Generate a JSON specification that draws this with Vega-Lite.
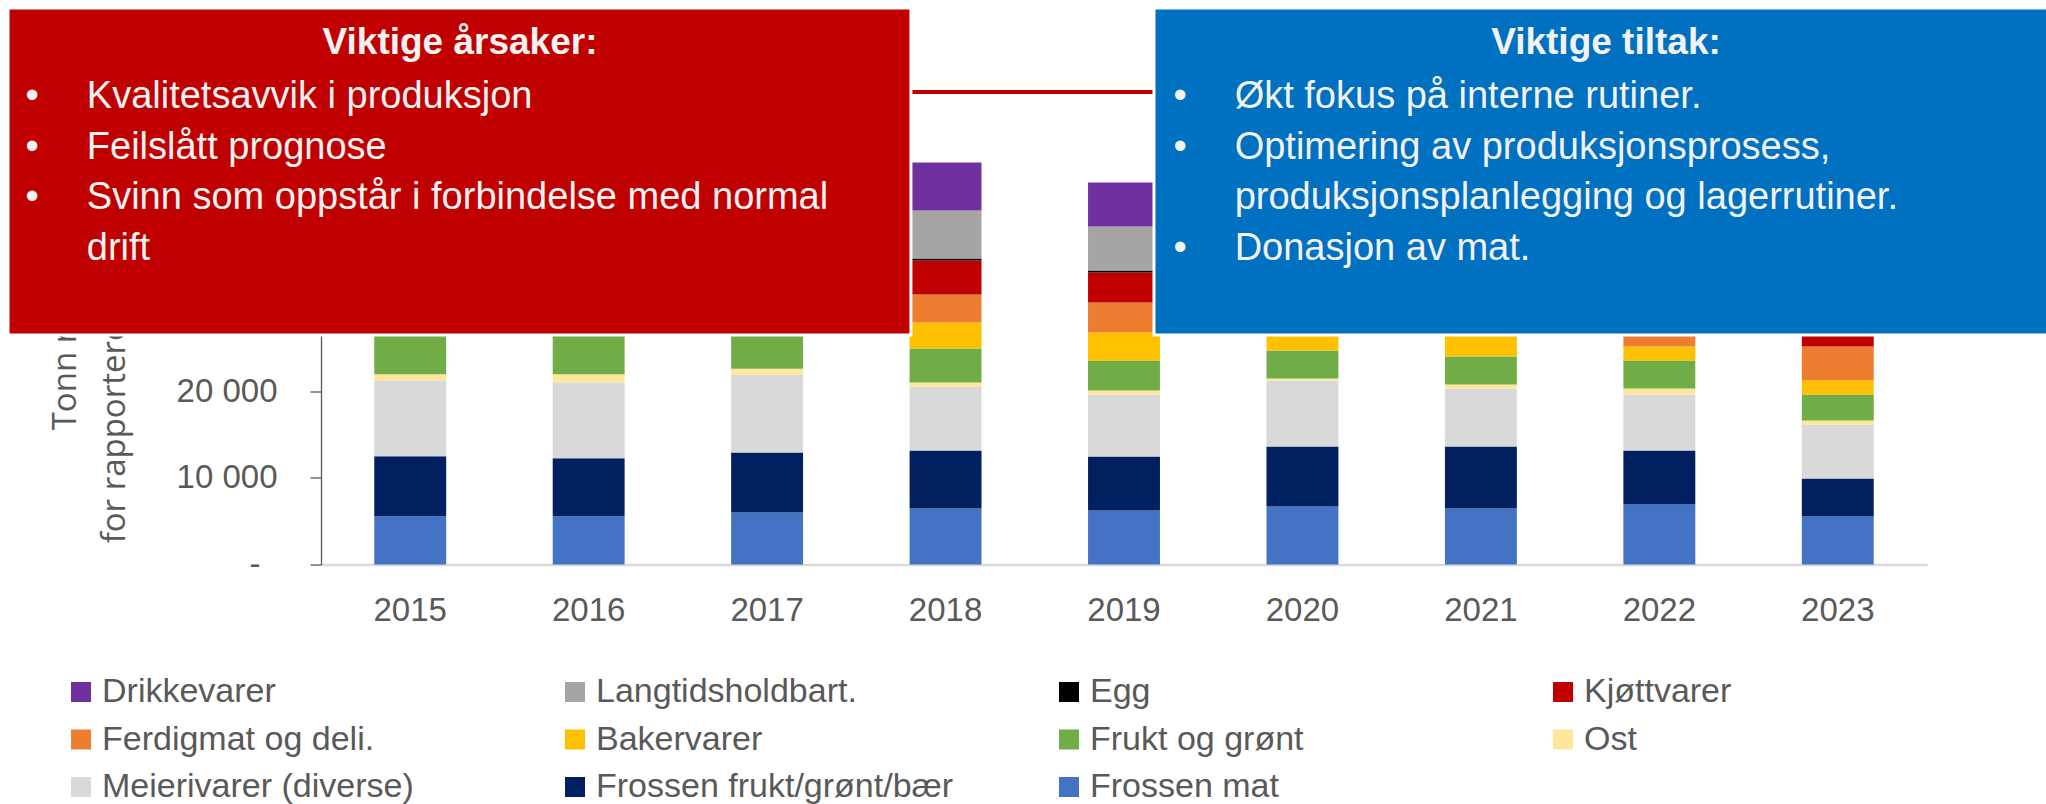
{
  "$schema": "https://vega.github.io/schema/vega-lite/v6.json",
  "width": 1606,
  "height": 477,
  "autosize": {"type": "none"},
  "padding": {"left": 321, "top": 87.5, "right": 119, "bottom": 239.5},
  "background": "#ffffff",
  "config": {"view": {"stroke": null}, "font": "Liberation Sans"},
  "resolve": {"scale": {"x": "independent"}},
  "layer": [
    {
      "data": {"values": [
        {"year": 2015, "cat": "Frossen mat", "t": 5570},
        {"year": 2015, "cat": "Frossen frukt/grønt/bær", "t": 6920},
        {"year": 2015, "cat": "Meierivarer (diverse)", "t": 8760},
        {"year": 2015, "cat": "Ost", "t": 690},
        {"year": 2015, "cat": "Frukt og grønt", "t": 4600},
        {"year": 2015, "cat": "Bakervarer", "t": 2400},
        {"year": 2015, "cat": "Ferdigmat og deli.", "t": 2800},
        {"year": 2015, "cat": "Kjøttvarer", "t": 3400},
        {"year": 2015, "cat": "Egg", "t": 200},
        {"year": 2015, "cat": "Langtidsholdbart.", "t": 4800},
        {"year": 2015, "cat": "Drikkevarer", "t": 4600},
        {"year": 2016, "cat": "Frossen mat", "t": 5570},
        {"year": 2016, "cat": "Frossen frukt/grønt/bær", "t": 6690},
        {"year": 2016, "cat": "Meierivarer (diverse)", "t": 8760},
        {"year": 2016, "cat": "Ost", "t": 920},
        {"year": 2016, "cat": "Frukt og grønt", "t": 4600},
        {"year": 2016, "cat": "Bakervarer", "t": 2500},
        {"year": 2016, "cat": "Ferdigmat og deli.", "t": 2900},
        {"year": 2016, "cat": "Kjøttvarer", "t": 3400},
        {"year": 2016, "cat": "Egg", "t": 200},
        {"year": 2016, "cat": "Langtidsholdbart.", "t": 4900},
        {"year": 2016, "cat": "Drikkevarer", "t": 4700},
        {"year": 2017, "cat": "Frossen mat", "t": 6000},
        {"year": 2017, "cat": "Frossen frukt/grønt/bær", "t": 6920},
        {"year": 2017, "cat": "Meierivarer (diverse)", "t": 8990},
        {"year": 2017, "cat": "Ost", "t": 650},
        {"year": 2017, "cat": "Frukt og grønt", "t": 4000},
        {"year": 2017, "cat": "Bakervarer", "t": 2600},
        {"year": 2017, "cat": "Ferdigmat og deli.", "t": 3000},
        {"year": 2017, "cat": "Kjøttvarer", "t": 3500},
        {"year": 2017, "cat": "Egg", "t": 200},
        {"year": 2017, "cat": "Langtidsholdbart.", "t": 5000},
        {"year": 2017, "cat": "Drikkevarer", "t": 4800},
        {"year": 2018, "cat": "Frossen mat", "t": 6460},
        {"year": 2018, "cat": "Frossen frukt/grønt/bær", "t": 6690},
        {"year": 2018, "cat": "Meierivarer (diverse)", "t": 7380},
        {"year": 2018, "cat": "Ost", "t": 460},
        {"year": 2018, "cat": "Frukt og grønt", "t": 3920},
        {"year": 2018, "cat": "Bakervarer", "t": 3000},
        {"year": 2018, "cat": "Ferdigmat og deli.", "t": 3230},
        {"year": 2018, "cat": "Kjøttvarer", "t": 3920},
        {"year": 2018, "cat": "Egg", "t": 230},
        {"year": 2018, "cat": "Langtidsholdbart.", "t": 5530},
        {"year": 2018, "cat": "Drikkevarer", "t": 5530},
        {"year": 2019, "cat": "Frossen mat", "t": 6230},
        {"year": 2019, "cat": "Frossen frukt/grønt/bær", "t": 6230},
        {"year": 2019, "cat": "Meierivarer (diverse)", "t": 7150},
        {"year": 2019, "cat": "Ost", "t": 460},
        {"year": 2019, "cat": "Frukt og grønt", "t": 3460},
        {"year": 2019, "cat": "Bakervarer", "t": 3230},
        {"year": 2019, "cat": "Ferdigmat og deli.", "t": 3460},
        {"year": 2019, "cat": "Kjøttvarer", "t": 3460},
        {"year": 2019, "cat": "Egg", "t": 230},
        {"year": 2019, "cat": "Langtidsholdbart.", "t": 5070},
        {"year": 2019, "cat": "Drikkevarer", "t": 5070},
        {"year": 2020, "cat": "Frossen mat", "t": 6690},
        {"year": 2020, "cat": "Frossen frukt/grønt/bær", "t": 6920},
        {"year": 2020, "cat": "Meierivarer (diverse)", "t": 7610},
        {"year": 2020, "cat": "Ost", "t": 230},
        {"year": 2020, "cat": "Frukt og grønt", "t": 3230},
        {"year": 2020, "cat": "Bakervarer", "t": 2600},
        {"year": 2020, "cat": "Ferdigmat og deli.", "t": 2900},
        {"year": 2020, "cat": "Kjøttvarer", "t": 3000},
        {"year": 2020, "cat": "Egg", "t": 200},
        {"year": 2020, "cat": "Langtidsholdbart.", "t": 4600},
        {"year": 2020, "cat": "Drikkevarer", "t": 4400},
        {"year": 2021, "cat": "Frossen mat", "t": 6460},
        {"year": 2021, "cat": "Frossen frukt/grønt/bær", "t": 7150},
        {"year": 2021, "cat": "Meierivarer (diverse)", "t": 6690},
        {"year": 2021, "cat": "Ost", "t": 460},
        {"year": 2021, "cat": "Frukt og grønt", "t": 3230},
        {"year": 2021, "cat": "Bakervarer", "t": 2700},
        {"year": 2021, "cat": "Ferdigmat og deli.", "t": 2800},
        {"year": 2021, "cat": "Kjøttvarer", "t": 2900},
        {"year": 2021, "cat": "Egg", "t": 200},
        {"year": 2021, "cat": "Langtidsholdbart.", "t": 4500},
        {"year": 2021, "cat": "Drikkevarer", "t": 4300},
        {"year": 2022, "cat": "Frossen mat", "t": 6920},
        {"year": 2022, "cat": "Frossen frukt/grønt/bær", "t": 6230},
        {"year": 2022, "cat": "Meierivarer (diverse)", "t": 6460},
        {"year": 2022, "cat": "Ost", "t": 690},
        {"year": 2022, "cat": "Frukt og grønt", "t": 3230},
        {"year": 2022, "cat": "Bakervarer", "t": 1610},
        {"year": 2022, "cat": "Ferdigmat og deli.", "t": 2600},
        {"year": 2022, "cat": "Kjøttvarer", "t": 2800},
        {"year": 2022, "cat": "Egg", "t": 200},
        {"year": 2022, "cat": "Langtidsholdbart.", "t": 4400},
        {"year": 2022, "cat": "Drikkevarer", "t": 4200},
        {"year": 2023, "cat": "Frossen mat", "t": 5530},
        {"year": 2023, "cat": "Frossen frukt/grønt/bær", "t": 4380},
        {"year": 2023, "cat": "Meierivarer (diverse)", "t": 6230},
        {"year": 2023, "cat": "Ost", "t": 460},
        {"year": 2023, "cat": "Frukt og grønt", "t": 3000},
        {"year": 2023, "cat": "Bakervarer", "t": 1610},
        {"year": 2023, "cat": "Ferdigmat og deli.", "t": 3920},
        {"year": 2023, "cat": "Kjøttvarer", "t": 3000},
        {"year": 2023, "cat": "Egg", "t": 200},
        {"year": 2023, "cat": "Langtidsholdbart.", "t": 4200},
        {"year": 2023, "cat": "Drikkevarer", "t": 4000}
      ]},
      "transform": [
        {"window": [{"op": "row_number", "as": "k"}], "groupby": ["year"]}
      ],
      "mark": {"type": "bar"},
      "encoding": {
        "x": {
          "field": "year", "type": "ordinal",
          "scale": {"paddingInner": 0.597, "paddingOuter": 0.2985},
          "axis": {
            "title": null, "labelAngle": 0, "ticks": false, "labelPadding": 30,
            "labelFont": "Liberation Sans", "labelFontSize": 33, "labelColor": "#595959",
            "domainColor": "#D9D9D9", "domainWidth": 2.5, "grid": false
          }
        },
        "y": {
          "field": "t", "type": "quantitative", "stack": "zero",
          "scale": {"domain": [0, 55000]},
          "axis": {
            "values": [0, 10000, 20000],
            "labelExpr": "datum.value == 0 ? '-' : replace(format(datum.value, ',d'), ',', ' ')",
            "labelFont": "Liberation Sans", "labelFontSize": 33, "labelColor": "#595959",
            "labelPadding": {"condition": {"test": "datum.value === 0", "value": 50}, "value": 33},
            "tickSize": 11, "tickColor": "#595959", "tickWidth": 1.3,
            "domainColor": "#595959", "domainWidth": 1.3, "grid": false,
            "title": ["Tonn rapporterte", "for rapporterende virksomheter"],
            "titleFont": "Open Sans", "titleFontSize": 33, "titleFontWeight": "normal",
            "titleColor": "#595959", "titleLineHeight": 49.5, "titleAlign": "center",
            "titleBaseline": "alphabetic", "titleAngle": 270, "titleX": -246, "titleY": 209
          }
        },
        "color": {
          "field": "cat", "type": "nominal",
          "scale": {
            "domain": ["Frossen mat", "Frossen frukt/grønt/bær", "Meierivarer (diverse)", "Ost", "Frukt og grønt", "Bakervarer", "Ferdigmat og deli.", "Kjøttvarer", "Egg", "Langtidsholdbart.", "Drikkevarer"],
            "range": ["#4472C4", "#002060", "#D9D9D9", "#FFE699", "#70AD47", "#FFC000", "#ED7D31", "#C00000", "#000000", "#A5A5A5", "#7030A0"]
          },
          "legend": {
            "orient": "none", "legendX": -257, "legendY": 587.5, "direction": "horizontal",
            "columns": 4, "gridAlign": "all",
            "values": ["Drikkevarer", "Langtidsholdbart.", "Egg", "Kjøttvarer", "Ferdigmat og deli.", "Bakervarer", "Frukt og grønt", "Ost", "Meierivarer (diverse)", "Frossen frukt/grønt/bær", "Frossen mat"],
            "title": null, "symbolType": "square", "symbolSize": 400, "symbolStrokeWidth": 0,
            "labelFont": "Liberation Sans", "labelFontSize": 34, "labelColor": "#595959",
            "labelLimit": 800, "labelOffset": 4, "columnPadding": 98, "rowPadding": 13.5
          }
        },
        "order": {"field": "k", "type": "quantitative"}
      }
    },
    {
      "data": {"values": [{}]},
      "layer": [
        {
          "mark": {"type": "rule", "color": "#C00000", "strokeWidth": 4},
          "encoding": {
            "x": {"datum": 2017.75, "type": "quantitative", "scale": {"domain": [2014.5, 2023.5]}, "axis": null},
            "x2": {"datum": 2019.25},
            "y": {"datum": 54481, "type": "quantitative", "scale": {"domain": [0, 55000]}}
          }
        },
        {
          "mark": {"type": "rect", "fill": "#C00000", "stroke": "#FFFFFF", "strokeWidth": 3},
          "encoding": {
            "x": {"datum": 2012.746, "type": "quantitative", "scale": {"domain": [2014.5, 2023.5]}, "axis": null},
            "x2": {"datum": 2017.806},
            "y": {"datum": 64167, "type": "quantitative", "scale": {"domain": [0, 55000]}},
            "y2": {"datum": 26462}
          }
        },
        {
          "mark": {"type": "rect", "fill": "#0070C0", "stroke": "#FFFFFF", "strokeWidth": 3},
          "encoding": {
            "x": {"datum": 2019.168, "type": "quantitative", "scale": {"domain": [2014.5, 2023.5]}, "axis": null},
            "x2": {"datum": 2024.8},
            "y": {"datum": 64167, "type": "quantitative", "scale": {"domain": [0, 55000]}},
            "y2": {"datum": 26462}
          }
        },
        {
          "mark": {"type": "text", "text": "Viktige årsaker:", "font": "Liberation Sans", "fontSize": 37, "fontWeight": "bold", "color": "#F2F2F2", "align": "center", "baseline": "alphabetic"},
          "encoding": {
            "x": {"datum": 2015.279, "type": "quantitative", "scale": {"domain": [2014.5, 2023.5]}, "axis": null},
            "y": {"datum": 58863, "type": "quantitative", "scale": {"domain": [0, 55000]}}
          }
        },
        {
          "mark": {"type": "text", "text": ["•", "•", "•"], "font": "Liberation Sans", "fontSize": 38, "lineHeight": 50.6, "color": "#F2F2F2", "align": "center", "baseline": "alphabetic"},
          "encoding": {
            "x": {"datum": 2012.882, "type": "quantitative", "scale": {"domain": [2014.5, 2023.5]}, "axis": null},
            "y": {"datum": 52602, "type": "quantitative", "scale": {"domain": [0, 55000]}}
          }
        },
        {
          "mark": {"type": "text", "text": ["Kvalitetsavvik i produksjon", "Feilslått prognose", "Svinn som oppstår i forbindelse med normal", "drift"], "font": "Liberation Sans", "fontSize": 38, "lineHeight": 50.6, "color": "#F2F2F2", "align": "left", "baseline": "alphabetic"},
          "encoding": {
            "x": {"datum": 2013.1875, "type": "quantitative", "scale": {"domain": [2014.5, 2023.5]}, "axis": null},
            "y": {"datum": 52602, "type": "quantitative", "scale": {"domain": [0, 55000]}}
          }
        },
        {
          "mark": {"type": "text", "text": "Viktige tiltak:", "font": "Liberation Sans", "fontSize": 37, "fontWeight": "bold", "color": "#F2F2F2", "align": "center", "baseline": "alphabetic"},
          "encoding": {
            "x": {"datum": 2021.701, "type": "quantitative", "scale": {"domain": [2014.5, 2023.5]}, "axis": null},
            "y": {"datum": 58863, "type": "quantitative", "scale": {"domain": [0, 55000]}}
          }
        },
        {
          "mark": {"type": "text", "text": ["•", "•"], "font": "Liberation Sans", "fontSize": 38, "lineHeight": 50.6, "color": "#F2F2F2", "align": "center", "baseline": "alphabetic"},
          "encoding": {
            "x": {"datum": 2019.314, "type": "quantitative", "scale": {"domain": [2014.5, 2023.5]}, "axis": null},
            "y": {"datum": 52602, "type": "quantitative", "scale": {"domain": [0, 55000]}}
          }
        },
        {
          "mark": {"type": "text", "text": "•", "font": "Liberation Sans", "fontSize": 38, "color": "#F2F2F2", "align": "center", "baseline": "alphabetic"},
          "encoding": {
            "x": {"datum": 2019.314, "type": "quantitative", "scale": {"domain": [2014.5, 2023.5]}, "axis": null},
            "y": {"datum": 35100, "type": "quantitative", "scale": {"domain": [0, 55000]}}
          }
        },
        {
          "mark": {"type": "text", "text": ["Økt fokus på interne rutiner.", "Optimering av produksjonsprosess,", "produksjonsplanlegging og lagerrutiner.", "Donasjon av mat."], "font": "Liberation Sans", "fontSize": 38, "lineHeight": 50.6, "color": "#F2F2F2", "align": "left", "baseline": "alphabetic"},
          "encoding": {
            "x": {"datum": 2019.62, "type": "quantitative", "scale": {"domain": [2014.5, 2023.5]}, "axis": null},
            "y": {"datum": 52602, "type": "quantitative", "scale": {"domain": [0, 55000]}}
          }
        }
      ]
    }
  ]
}
